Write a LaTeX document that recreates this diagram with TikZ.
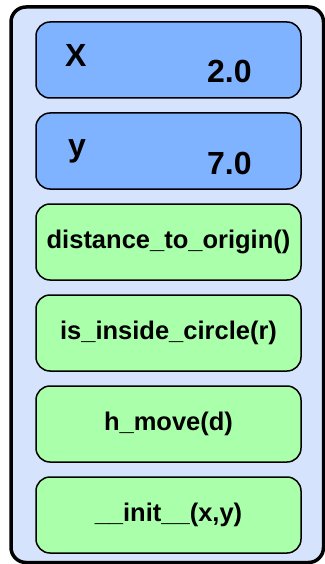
\documentclass[tikz,border=0pt]{standalone}
\usepackage{fontspec}
\setmainfont{Liberation Sans}
\definecolor{objfill}{HTML}{D5E3FC}
\definecolor{attrfill}{HTML}{80B3FF}
\definecolor{methfill}{HTML}{AAFFAA}
\begin{document}
\begin{tikzpicture}[x=1pt,y=-1pt,
  objbox/.style={draw=black,line width=3.5pt,fill=objfill,rounded corners=15pt},
  attrbox/.style={draw=black,line width=1.5pt,fill=attrfill,rounded corners=14pt,
    minimum width=265pt,minimum height=76pt,inner sep=0pt},
  methbox/.style={draw=black,line width=1.5pt,fill=methfill,rounded corners=14pt,
    minimum width=265pt,minimum height=76pt,inner sep=0pt,
    font=\fontsize{25.5pt}{28pt}\selectfont\bfseries},
  attrname/.style={anchor=base west,inner sep=0pt,font=\fontsize{32pt}{34pt}\selectfont\bfseries},
  attrval/.style={anchor=base west,inner sep=0pt,font=\fontsize{32pt}{34pt}\selectfont\bfseries}]
\useasboundingbox (0,0) rectangle (324,564);
% object frame
\draw[objbox] (11,7) rectangle (323.5,562.5);
% attributes
\node[attrbox] (ax) at (168.5,60) {};
\node[attrname] (axn) at (65,67) {X};
\node[attrval] (axv) at (207,83) {2.0};
\node[attrbox] (ay) at (168.5,151) {};
\node[attrname] (ayn) at (68,157) {y};
\node[attrval] (ayv) at (207,175) {7.0};
% methods
\node[methbox] (m1) at (168.5,242) {distance\_to\_origin()};
\node[methbox] (m2) at (168.5,333) {is\_inside\_circle(r)};
\node[methbox] (m3) at (168.5,424) {h\_move(d)};
\node[methbox] (m4) at (168.5,515) {\_\_init\_\_(x,y)};
\end{tikzpicture}
\end{document}
